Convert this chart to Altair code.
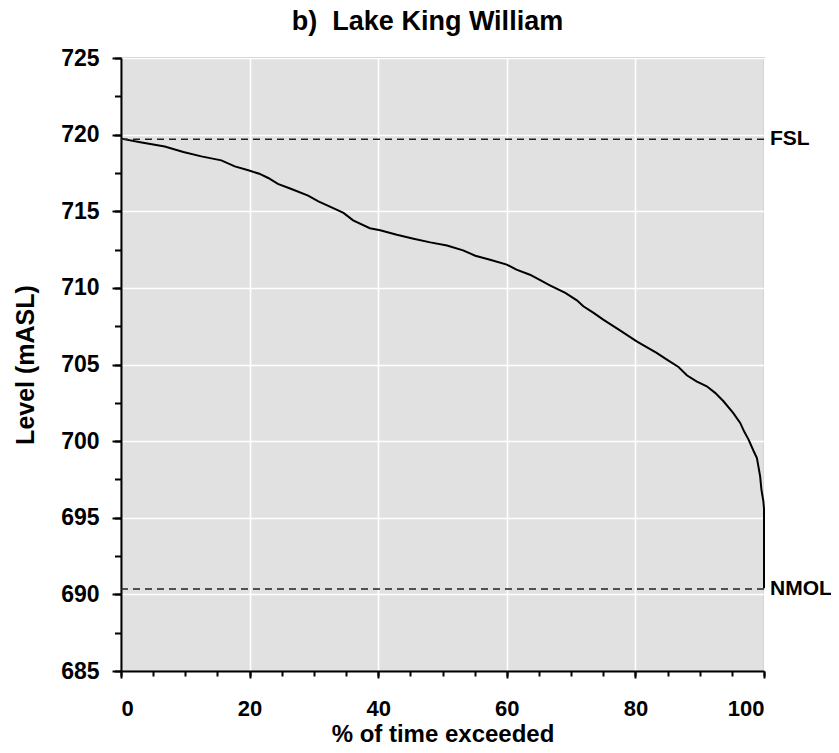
import altair as alt
import pandas as pd

# Duration curve: % of time exceeded vs lake level (mASL)
pct_exceeded = [0, 3.0, 6.8, 9.7, 12.5, 15.6, 17.7, 19.8, 21.5, 22.9, 24.4, 26.5, 29.1, 30.7,
                33.0, 34.6, 36.1, 38.7, 40.3, 42.9, 45.5, 48.1, 50.7, 53.2, 55.1, 57.4, 60.0,
                61.5, 63.6, 65.2, 66.7, 69.1, 70.9, 71.9, 73.5, 75.0, 77.6, 80.2, 83.3, 84.9,
                86.7, 88.0, 89.5, 91.1, 92.4, 93.7, 95.2, 96.3, 96.9, 97.6, 98.4, 98.9, 99.4,
                99.6, 99.9, 100.0, 100.0]
level_masl = [719.74, 719.5, 719.23, 718.87, 718.58, 718.32, 717.93, 717.67, 717.45, 717.17,
              716.78, 716.45, 716.02, 715.65, 715.2, 714.89, 714.41, 713.89, 713.76, 713.47,
              713.21, 712.97, 712.76, 712.45, 712.1, 711.84, 711.52, 711.19, 710.86, 710.5,
              710.17, 709.67, 709.19, 708.8, 708.37, 707.93, 707.23, 706.51, 705.76, 705.32,
              704.84, 704.3, 703.9, 703.58, 703.15, 702.6, 701.84, 701.19, 700.64, 700.1,
              699.34, 698.9, 697.7, 696.84, 696.08, 695.6, 690.4]

ref_names = ["FSL", "NMOL"]
ref_levels = [719.7, 690.35]

x_major = [0, 20, 40, 60, 80, 100]
x_minor = [0, 5, 10, 15, 20, 25, 30, 35, 40, 45, 50, 55, 60, 65, 70, 75, 80, 85, 90, 95, 100]
y_major = [685, 690, 695, 700, 705, 710, 715, 720, 725]
y_minor = [685 + 2.5 * i for i in range(17)]

curve = pd.DataFrame({"pct": pct_exceeded, "level": level_masl, "idx": range(len(pct_exceeded))})
refs = pd.DataFrame({"name": ref_names, "level": ref_levels, "pct": [100, 100]})

xscale = alt.Scale(domain=[0, 100], nice=False, zero=False)
yscale = alt.Scale(domain=[685, 725], nice=False, zero=False)

line = alt.Chart(curve).mark_line(color="black", strokeWidth=2).encode(
    x=alt.X("pct:Q", scale=xscale,
            axis=alt.Axis(values=x_major, title="% of time exceeded", orient="bottom",
                          tickSize=7, labelPadding=20, titlePadding=3, grid=True)),
    y=alt.Y("level:Q", scale=yscale,
            axis=alt.Axis(values=y_major, title="Level (mASL)", orient="left",
                          tickSize=9, labelPadding=13, titlePadding=22, grid=True)),
    order="idx:Q",
)

minor = alt.Chart(curve).mark_point(opacity=0).encode(
    x=alt.X("pct:Q", scale=xscale,
            axis=alt.Axis(values=x_minor, title=None, labels=False, orient="bottom",
                          tickSize=5, grid=False, domain=False)),
    y=alt.Y("level:Q", scale=yscale,
            axis=alt.Axis(values=y_minor, title=None, labels=False, orient="left",
                          tickSize=6.5, grid=False, domain=False)),
)

rules = alt.Chart(refs).mark_rule(color="#222222", strokeWidth=1.4, strokeDash=[7, 5]).encode(
    y=alt.Y("level:Q", scale=yscale, axis=None),
)

labels = alt.Chart(refs).mark_text(
    align="left", baseline="middle", dx=6, fontSize=21, fontWeight="bold",
    font="Liberation Sans", color="black"
).encode(
    x=alt.X("pct:Q", scale=xscale, axis=None),
    y=alt.Y("level:Q", scale=yscale, axis=None),
    text="name:N",
)

chart = alt.layer(line, minor, rules, labels).resolve_axis(
    x="independent", y="independent"
).properties(
    width=643,
    height=613,
    padding={"left": 113, "top": 50, "right": 67, "bottom": 74},
    autosize=alt.AutoSizeParams(type="none"),
    title=alt.TitleParams("b)\u00a0 Lake King William", fontSize=27, fontWeight="bold",
                          font="Liberation Sans", color="black", anchor="middle",
                          dx=-15, offset=11),
).configure_view(
    fill="#e1e1e1", stroke="#b8b8b8", strokeWidth=1.5
).configure_axis(
    labelFont="Liberation Sans", titleFont="Liberation Sans",
    labelFontWeight="bold", titleFontWeight="bold",
    labelColor="black", titleColor="black",
    domainColor="black", domainWidth=2, tickColor="black", tickWidth=2,
    gridColor="white", gridWidth=1.6, gridOpacity=1,
).configure_axisX(
    labelFontSize=22, titleFontSize=24,
).configure_axisY(
    labelFontSize=23, titleFontSize=25,
)

chart.save("out.html", embed_options={"renderer": "svg", "actions": False})
